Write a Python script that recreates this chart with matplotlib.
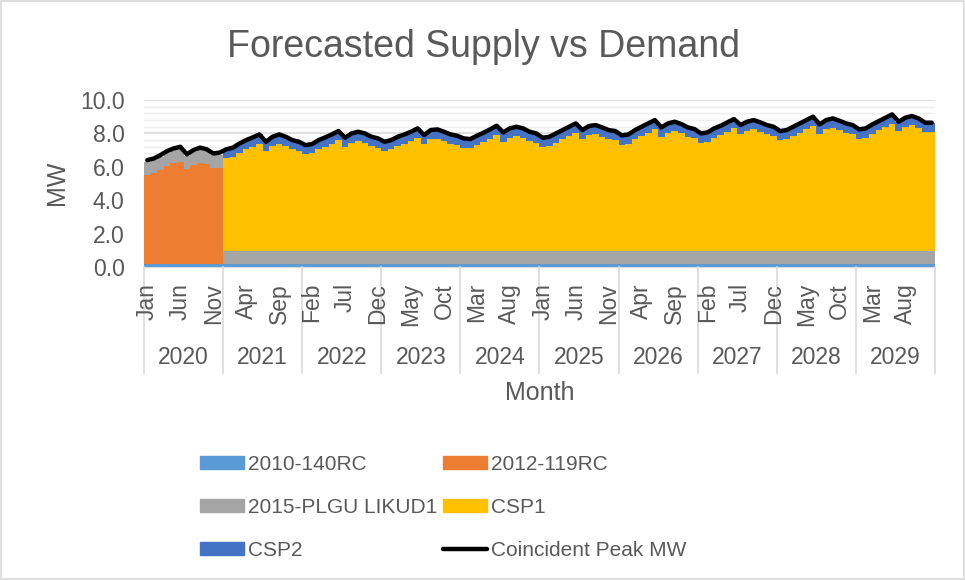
import matplotlib
matplotlib.use('Agg')
import matplotlib.pyplot as plt
import numpy as np
from matplotlib.patches import Patch, Rectangle
from matplotlib.lines import Line2D

plt.rcParams['font.family'] = ['Liberation Sans', 'DejaVu Sans']

years = [str(y) for y in range(2020, 2030)]
month_names = ['Jan', 'Feb', 'Mar', 'Apr', 'May', 'Jun',
               'Jul', 'Aug', 'Sep', 'Oct', 'Nov', 'Dec']

peak = [
    6.40, 6.50, 6.70, 6.94, 7.10, 7.20, 6.75, 7.00, 7.15, 7.05, 6.80, 6.85,
    7.05, 7.15, 7.40, 7.60, 7.76, 7.94, 7.50, 7.80, 7.94, 7.80, 7.60, 7.50,
    7.30, 7.36, 7.60, 7.76, 7.94, 8.14, 7.74, 8.00, 8.10, 8.00, 7.80, 7.70,
    7.50, 7.60, 7.80, 7.94, 8.10, 8.30, 7.90, 8.20, 8.24, 8.10, 7.94, 7.86,
    7.70, 7.66, 7.86, 8.04, 8.24, 8.46, 8.06, 8.30, 8.40, 8.30, 8.10, 8.00,
    7.74, 7.80, 8.00, 8.20, 8.40, 8.60, 8.20, 8.44, 8.50, 8.36, 8.20, 8.14,
    7.88, 7.94, 8.20, 8.40, 8.60, 8.80, 8.36, 8.60, 8.70, 8.56, 8.36, 8.26,
    8.00, 8.06, 8.30, 8.46, 8.66, 8.86, 8.50, 8.70, 8.80, 8.66, 8.50, 8.40,
    8.14, 8.20, 8.40, 8.60, 8.80, 9.00, 8.54, 8.80, 8.90, 8.76, 8.60, 8.50,
    8.24, 8.30, 8.54, 8.74, 8.94, 9.14, 8.70, 8.94, 9.04, 8.90, 8.64, 8.64,
]

rc_2010_140 = [0.15] * 120

rc_2012_119 = [5.35, 5.45, 5.65, 5.90, 6.05, 6.15, 5.70, 5.95, 6.10, 6.00, 5.75, 5.75] + [0.0] * 108

plgu_likud1 = [0.80] * 120

csp1 = [0.0] * 12 + [
    5.55, 5.65, 5.90, 6.10, 6.26, 6.44, 6.00, 6.30, 6.44, 6.30, 6.10, 6.00,
    5.80, 5.86, 6.10, 6.26, 6.44, 6.64, 6.24, 6.50, 6.60, 6.50, 6.30, 6.20,
    6.00, 6.10, 6.30, 6.44, 6.60, 6.80, 6.40, 6.70, 6.74, 6.60, 6.44, 6.36,
    6.20, 6.16, 6.36, 6.54, 6.74, 6.96, 6.56, 6.80, 6.90, 6.80, 6.60, 6.50,
    6.24, 6.30, 6.50, 6.70, 6.90, 7.10, 6.70, 6.94, 7.00, 6.86, 6.70, 6.64,
    6.38, 6.44, 6.70, 6.90, 7.10, 7.30, 6.86, 7.10, 7.20, 7.06, 6.86, 6.76,
    6.50, 6.56, 6.80, 6.96, 7.16, 7.36, 7.00, 7.20, 7.30, 7.16, 7.00, 6.90,
    6.64, 6.70, 6.90, 7.10, 7.30, 7.50, 7.04, 7.30, 7.40, 7.26, 7.10, 7.00,
    6.74, 6.80, 7.04, 7.24, 7.44, 7.64, 7.20, 7.44, 7.54, 7.40, 7.14, 7.14,
]

csp2 = [0.0] * 12 + [0.55] * 108

series = [
    ('2010-140RC', rc_2010_140, '#5B9BD5'),
    ('2012-119RC', rc_2012_119, '#ED7D31'),
    ('2015-PLGU LIKUD1', plgu_likud1, '#A5A5A5'),
    ('CSP1', csp1, '#FFC000'),
    ('CSP2', csp2, '#4472C4'),
]

TXT = '#595959'
GRID = '#D9D9D9'

W, H = 965, 580
fig = plt.figure(figsize=(W / 100, H / 100), dpi=100)
ax = fig.add_axes([144 / W, 1 - 267 / H, (935 - 144) / W, (267 - 100) / H])

n = len(peak)
x = np.arange(n)
edges = np.arange(n + 1) - 0.5
bottom = np.zeros(n)
for label, vals, color in series:
    v = np.array(vals)
    top = bottom + v
    ax.stairs(top, edges, baseline=bottom.copy(), fill=True, color=color,
              lw=0, zorder=2)
    bottom = top

ax.plot(x, peak, color='black', lw=3.2, solid_joinstyle='round',
        solid_capstyle='round', zorder=5)

ax.set_xlim(-0.5, n - 0.5)
ax.set_ylim(0, 10)
ax.set_yticks(np.arange(0, 10.01, 2))
ax.set_yticklabels([f'{v:.1f}' for v in np.arange(0, 10.01, 2)])
ax.set_yticks(np.arange(0, 10.01, 0.4), minor=True)
ax.set_axisbelow(True)
ax.grid(axis='y', which='major', color=GRID, lw=1.2)
ax.grid(axis='y', which='minor', color='#EEEEEE', lw=1.0)
ax.tick_params(axis='y', which='both', length=0, pad=14, labelsize=16.5,
               labelcolor=TXT)
ax.set_xticks([])
for s in ['top', 'right', 'left']:
    ax.spines[s].set_visible(False)
ax.spines['bottom'].set_color(GRID)
ax.spines['bottom'].set_zorder(6)

xtr = ax.get_xaxis_transform()
axh = 267 - 100
for i in range(0, n, 5):
    ax.text(i, -16 / axh, month_names[i % 12], transform=xtr, rotation=90,
            ha='center', va='top', fontsize=16.5, color=TXT, clip_on=False)
for k, yr in enumerate(years):
    ax.text(12 * k + 5.5, -(358 - 267) / axh, yr, transform=xtr,
            ha='center', va='center', fontsize=16.5, color=TXT, clip_on=False)
for k in range(len(years) + 1):
    ax.add_line(Line2D([12 * k - 0.5, 12 * k - 0.5], [0, -(373 - 267) / axh],
                       transform=xtr, color=GRID, lw=1.2, clip_on=False))

fig.text(484 / W, 1 - 57 / H, 'Forecasted Supply vs Demand', ha='center',
         va='baseline', fontsize=27, color=TXT)
fig.text(540 / W, 1 - 393 / H, 'Month', ha='center', va='center',
         fontsize=18, color=TXT)
fig.text(57 / W, 1 - 183 / H, 'MW', ha='center', va='center', rotation=90,
         fontsize=18, color=TXT)

handles = [Patch(facecolor=c, edgecolor=c) for _, _, c in series]
handles.append(Line2D([0], [0], color='black', lw=3.2, solid_capstyle='round'))
labels = [s[0] for s in series] + ['Coincident Peak MW']
order = [0, 2, 4, 1, 3, 5]
leg = fig.legend([handles[i] for i in order], [labels[i] for i in order],
                 ncol=2, loc='upper left', bbox_to_anchor=(200 / W, 1 - 455 / H),
                 frameon=False, fontsize=15, handlelength=2.1,
                 handleheight=0.55, handletextpad=0.2, columnspacing=0.3,
                 labelspacing=1.15, borderpad=0, borderaxespad=0)
for t in leg.get_texts():
    t.set_color(TXT)

fig.add_artist(Rectangle((0.0008, 0.0013), 0.9984, 0.9974,
                         transform=fig.transFigure, fill=False,
                         edgecolor=GRID, lw=1.2))

fig.savefig('out.png', dpi=100)
